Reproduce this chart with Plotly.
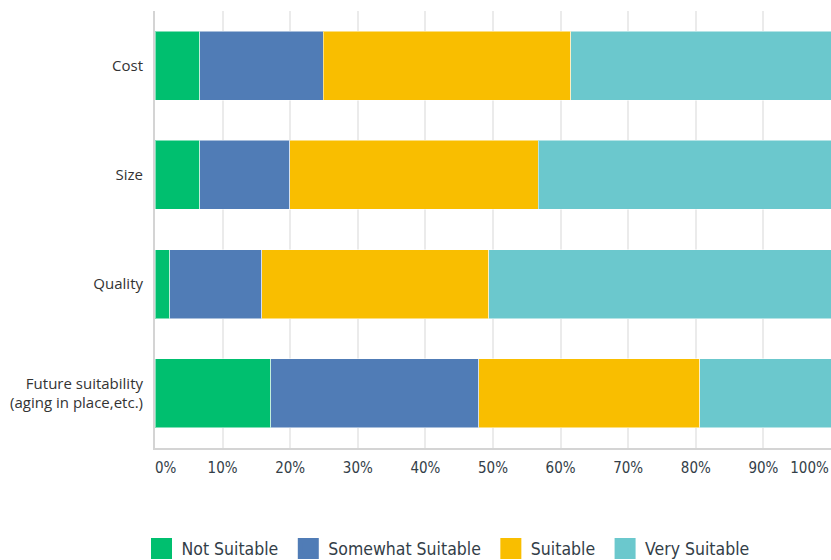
import plotly.graph_objects as go

categories = ["Cost", "Size", "Quality", "Future suitability<br>(aging in place,etc.)"]
series_names = ["Not Suitable", "Somewhat Suitable", "Suitable", "Very Suitable"]
not_suitable = [6.6, 6.6, 2.2, 17.1]
somewhat_suitable = [18.3, 13.3, 13.6, 30.8]
suitable = [36.6, 36.8, 33.6, 32.7]
very_suitable = [38.5, 43.3, 50.6, 19.4]
tick_vals = [0, 10, 20, 30, 40, 50, 60, 70, 80, 90, 100]
tick_text = ["0%", "10%", "20%", "30%", "40%", "50%", "60%", "70%", "80%", "90%", "100%"]

colors = ["#00BF6F", "#507CB6", "#F9BE00", "#6BC8CD"]
values = [not_suitable, somewhat_suitable, suitable, very_suitable]

COND = "DejaVu Sans Condensed, DejaVu Sans, sans-serif"
NB = "\u00a0"
# end labels sit inside the plot edges, as in the original
tick_text_padded = list(tick_text)
tick_text_padded[0] = NB * 5 + tick_text[0]
tick_text_padded[-1] = tick_text[-1] + NB * 10

fig = go.Figure()
for name, vals, col in zip(series_names, values, colors):
    fig.add_trace(
        go.Bar(
            y=categories,
            x=vals,
            orientation="h",
            name=name,
            marker=dict(color=col, line=dict(color="rgba(255,255,255,0.5)", width=1)),
            showlegend=False,
            hovertemplate="%{y}<br>" + name + ": %{x:.1f}%<extra></extra>",
        )
    )
    # legend-only entry so the swatch can be larger than the bar default
    fig.add_trace(
        go.Scatter(
            x=[None],
            y=[None],
            mode="markers",
            name=name + NB,
            marker=dict(symbol="square", size=16, color=col, line=dict(color=col, width=5)),
            showlegend=True,
        )
    )

fig.update_layout(
    width=831,
    height=560,
    barmode="stack",
    bargap=0.367,
    paper_bgcolor="white",
    plot_bgcolor="white",
    margin=dict(l=155, r=0, t=11, b=112, autoexpand=False),
    font=dict(family="Open Sans, Arial, sans-serif", size=15, color="#333333"),
    xaxis=dict(
        range=[0, 100],
        tickvals=tick_vals,
        ticktext=tick_text_padded,
        showgrid=True,
        gridcolor="#ebebeb",
        gridwidth=2,
        zeroline=False,
        showline=True,
        linecolor="#d4d4d4",
        linewidth=2,
        ticks="outside",
        ticklen=5,
        tickcolor="rgba(0,0,0,0)",
        tickfont=dict(family=COND, size=15, color="#333e48"),
        ticklabeloverflow="allow",
        automargin=False,
        fixedrange=True,
    ),
    yaxis=dict(
        categoryorder="array",
        categoryarray=categories,
        autorange="reversed",
        showgrid=False,
        zeroline=False,
        showline=True,
        linecolor="#d4d4d4",
        linewidth=2,
        ticks="outside",
        ticklen=7,
        tickcolor="rgba(0,0,0,0)",
        tickfont=dict(family="Open Sans, Arial, sans-serif", size=15, color="#333333"),
        automargin=False,
        fixedrange=True,
    ),
    legend=dict(
        orientation="h",
        traceorder="normal",
        x=-0.02,
        xanchor="left",
        y=-0.23,
        yanchor="middle",
        font=dict(family=COND, size=17.5, color="#333e48"),
        bgcolor="rgba(0,0,0,0)",
    ),
)

# drop the default 8px body margin so the chart fills the window
fig.write_html(
    "out.html",
    config={"displayModeBar": False},
    post_script="document.body.style.margin='0';",
)
